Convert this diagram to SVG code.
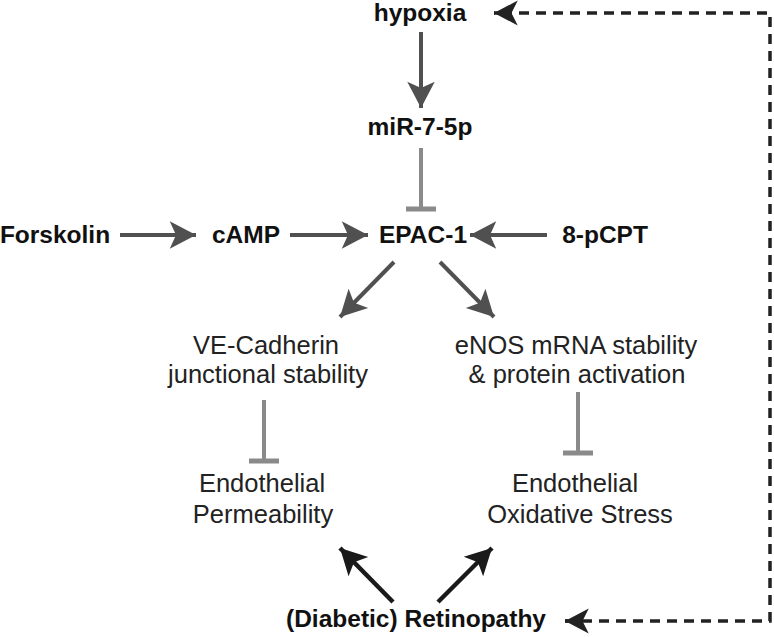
<svg xmlns="http://www.w3.org/2000/svg" width="774" height="637" viewBox="0 0 774 637">
<defs>
<style>
.b{font-family:"Liberation Sans",Arial,sans-serif;font-weight:bold;font-size:24.5px;fill:#111;text-anchor:middle}
.r{font-family:"Liberation Sans",Arial,sans-serif;font-size:25.5px;fill:#222;text-anchor:middle}
.a{stroke:#505050;stroke-width:4;fill:none}
.k{stroke:#1a1a1a;stroke-width:4.5;fill:none}
.i{stroke:#8a8a8a;stroke-width:4;fill:none}
.ib{stroke:#8a8a8a;stroke-width:5;fill:none}
.d{stroke:#222;stroke-width:3.5;fill:none;stroke-dasharray:10 7}
</style>
<marker id="ha" markerUnits="userSpaceOnUse" markerWidth="30" markerHeight="30" viewBox="-22 -12 24 24" refX="0" refY="0" orient="auto"><path d="M0,0 L-21,-11 L-16,0 L-21,11 Z" fill="#505050"/></marker>
<marker id="hk" markerUnits="userSpaceOnUse" markerWidth="30" markerHeight="30" viewBox="-22 -12 24 24" refX="0" refY="0" orient="auto"><path d="M0,0 L-21,-11 L-16,0 L-21,11 Z" fill="#1a1a1a"/></marker>
<marker id="hd" markerUnits="userSpaceOnUse" markerWidth="30" markerHeight="30" viewBox="-22 -12 24 24" refX="0" refY="0" orient="auto"><path d="M0,0 L-19,-10 L-14,0 L-19,10 Z" fill="#222"/></marker>
</defs>
<g id="connectors">
<line class="a" x1="421" y1="32" x2="421" y2="108" marker-end="url(#ha)"/>
<line class="i" x1="421" y1="148" x2="421" y2="207"/>
<line class="ib" x1="406" y1="209" x2="436" y2="209"/>
<line class="a" x1="120" y1="235" x2="196" y2="235" marker-end="url(#ha)"/>
<line class="a" x1="290" y1="235" x2="368" y2="235" marker-end="url(#ha)"/>
<line class="a" x1="547" y1="235" x2="470" y2="235" marker-end="url(#ha)"/>
<line class="a" x1="394" y1="262" x2="340" y2="317" marker-end="url(#ha)"/>
<line class="a" x1="440" y1="262" x2="494" y2="317" marker-end="url(#ha)"/>
<line class="i" x1="264" y1="400" x2="264" y2="459"/>
<line class="ib" x1="249" y1="461" x2="279" y2="461"/>
<line class="i" x1="578" y1="392" x2="578" y2="451"/>
<line class="ib" x1="563" y1="453" x2="593" y2="453"/>
<line class="k" x1="393" y1="602" x2="340" y2="548" marker-end="url(#hk)"/>
<line class="k" x1="438" y1="602" x2="492" y2="548" marker-end="url(#hk)"/>
<path class="d" d="M565,621 L770,621 L770,13 L494,13"/>
<line x1="505" y1="13" x2="494" y2="13" stroke="#222" stroke-width="3.5" marker-end="url(#hd)"/>
<line x1="577" y1="621" x2="565" y2="621" stroke="#222" stroke-width="3.5" marker-end="url(#hd)"/>
</g>
<g id="hypoxia"><text class="b" x="420" y="21">hypoxia</text></g>
<g id="mir"><text class="b" x="420" y="135">miR-7-5p</text></g>
<g id="forskolin"><text class="b" x="55" y="243">Forskolin</text></g>
<g id="camp"><text class="b" x="246" y="243">cAMP</text></g>
<g id="epac"><text class="b" x="423" y="243">EPAC-1</text></g>
<g id="pcpt"><text class="b" x="605" y="243">8-pCPT</text></g>
<g id="vecad"><text class="r" x="266" y="354">VE-Cadherin</text><text class="r" x="268" y="383">junctional stability</text></g>
<g id="enos"><text class="r" x="576" y="354">eNOS mRNA stability</text><text class="r" x="577" y="383">&amp; protein activation</text></g>
<g id="perm"><text class="r" x="262" y="492">Endothelial</text><text class="r" x="263" y="523">Permeability</text></g>
<g id="oxid"><text class="r" x="575" y="492">Endothelial</text><text class="r" x="580" y="523">Oxidative Stress</text></g>
<g id="retino"><text class="b" x="416" y="627">(Diabetic) Retinopathy</text></g>
</svg>
